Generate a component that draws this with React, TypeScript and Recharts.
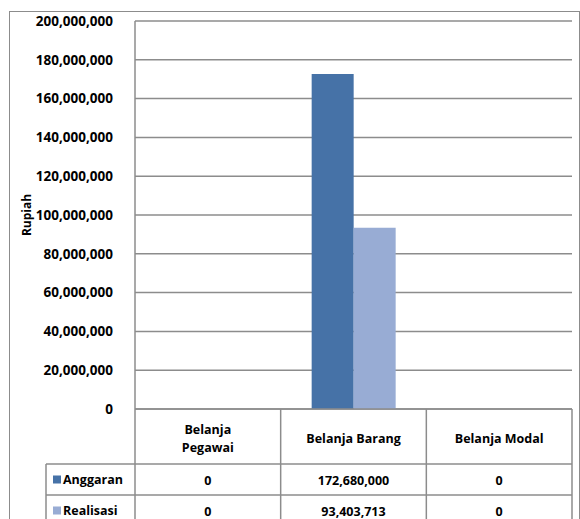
import React from 'react';
import { BarChart, Bar, XAxis, YAxis, CartesianGrid } from 'recharts';

const categories = ['Belanja Pegawai', 'Belanja Barang', 'Belanja Modal'];
const headerLines = [['Belanja', 'Pegawai'], ['Belanja Barang'], ['Belanja Modal']];
const anggaran = [0, 172680000, 0];
const realisasi = [0, 93403713, 0];
const seriesNames = ['Anggaran', 'Realisasi'];
const yTicks = [0, 20000000, 40000000, 60000000, 80000000, 100000000, 120000000, 140000000, 160000000, 180000000, 200000000];

const data = categories.map((c, i) => ({ name: c, anggaran: anggaran[i], realisasi: realisasi[i] }));

const W = 580;
const H = 519;
const M_LEFT = 135;
const M_RIGHT = 8;
const M_TOP = 21;
const X_AXIS_H = 110;
const PLOT_W = W - M_LEFT - M_RIGHT;
const LEG_LEFT = 46;
const HEAD_H = 55;
const ROW_H = 31;

const DARK = '#4672A7';
const LIGHT = '#98ACD4';
const LINE = '#8c8c8c';
const FONT = '"Open Sans", Lato, sans-serif';
const fmt = (v: number) => v.toLocaleString('en-US');

function TableTick(props: any) {
  const { x, y, payload, index } = props;
  const w = PLOT_W / categories.length;
  const left = x - w / 2;
  const right = x + w / 2;
  const r1 = y + HEAD_H;
  const r2 = r1 + ROW_H;
  const r3 = r2 + ROW_H;
  const lines = headerLines[index] || [payload.value];
  const vals = [anggaran[index], realisasi[index]];
  const colors = [DARK, LIGHT];
  const headCenter = y + 29;
  return (
    <g fontFamily={FONT} fontWeight={700} fontSize={12.5} fill="#000">
      <line x1={right} y1={y} x2={right} y2={r3 + 10} stroke={LINE} strokeWidth={1.5} />
      <line x1={left} y1={r1} x2={right} y2={r1} stroke={LINE} strokeWidth={1.5} />
      <line x1={left} y1={r2} x2={right} y2={r2} stroke={LINE} strokeWidth={1.5} />
      {index === 0 && (
        <g>
          <line x1={left} y1={y} x2={left} y2={r3 + 10} stroke={LINE} strokeWidth={1.5} />
          <line x1={LEG_LEFT} y1={r1} x2={left} y2={r1} stroke={LINE} strokeWidth={1.5} />
          <line x1={LEG_LEFT} y1={r2} x2={left} y2={r2} stroke={LINE} strokeWidth={1.5} />
          <line x1={LEG_LEFT} y1={r1} x2={LEG_LEFT} y2={r3 + 10} stroke={LINE} strokeWidth={1.5} />
          {seriesNames.map((s, k) => {
            const cy = r1 + k * ROW_H + ROW_H / 2;
            return (
              <g key={s}>
                <rect x={LEG_LEFT + 7} y={cy - 4} width={8} height={8} fill={colors[k]} />
                <text x={LEG_LEFT + 17} y={cy + 4.5} textAnchor="start" fill="#000">{s}</text>
              </g>
            );
          })}
        </g>
      )}
      {lines.map((t: string, k: number) => (
        <text key={k} x={x} y={headCenter + (k - (lines.length - 1) / 2) * 18 + 4.5} textAnchor="middle" fill="#000">{t}</text>
      ))}
      {vals.map((v, k) => (
        <text key={k} x={x} y={r1 + k * ROW_H + ROW_H / 2 + 5} textAnchor="middle" fill="#000">{fmt(v)}</text>
      ))}
    </g>
  );
}

function RupiahLabel(props: any) {
  const vb = props.viewBox || {};
  const cx = 26;
  const cy = (vb.y || 0) + (vb.height || 0) / 2;
  return (
    <text x={cx} y={cy} transform={`rotate(-90 ${cx} ${cy})`} textAnchor="middle" dominantBaseline="central" fontFamily={FONT} fontWeight={700} fontSize={12} fill="#000">Rupiah</text>
  );
}

export default function App() {
  return (
    <div style={{ position: 'absolute', left: 0, top: 0, width: W, height: H, overflow: 'hidden', background: '#fff' }}>
      <div style={{ position: 'absolute', left: 9, top: 11, width: 569, height: 600, border: `1.5px solid ${LINE}` }} />
      <div style={{ position: 'absolute', left: 0, top: 0 }}>
        <BarChart width={W} height={H} data={data} margin={{ top: M_TOP, right: M_RIGHT, left: 0, bottom: 0 }} barGap={0}>
          <CartesianGrid vertical={false} stroke={LINE} strokeWidth={1.5} />
          <XAxis dataKey="name" height={X_AXIS_H} interval={0} tickLine={false} tickSize={0} tickMargin={0} axisLine={{ stroke: LINE, strokeWidth: 1.5 }} tick={<TableTick />} />
          <YAxis width={M_LEFT} domain={[0, 200000000]} ticks={yTicks} interval={0} tickLine={false} tickSize={0} tickMargin={22} axisLine={{ stroke: LINE, strokeWidth: 1.5 }} tickFormatter={fmt} tick={{ fontFamily: FONT, fontWeight: 700, fontSize: 13.5, fill: '#000' }} label={<RupiahLabel />} />
          <Bar dataKey="anggaran" name="Anggaran" fill={DARK} barSize={42} isAnimationActive={false} />
          <Bar dataKey="realisasi" name="Realisasi" fill={LIGHT} barSize={42} isAnimationActive={false} />
        </BarChart>
      </div>
    </div>
  );
}
